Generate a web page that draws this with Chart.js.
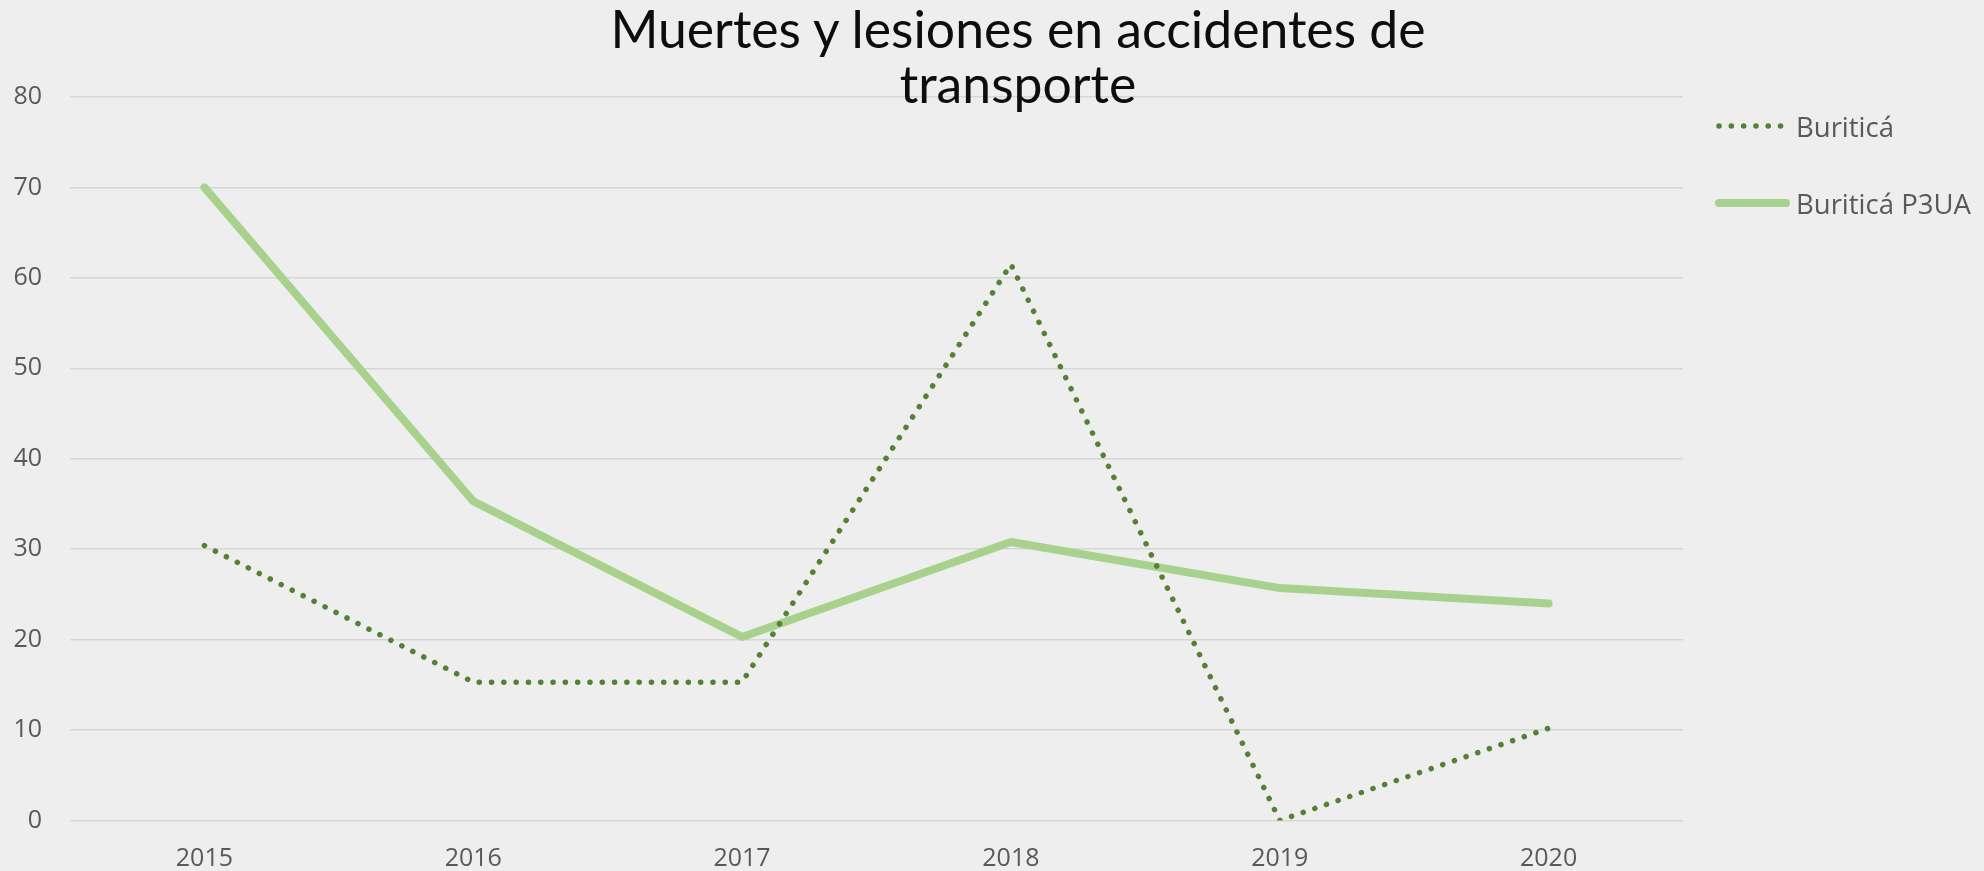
<!DOCTYPE html>
<html>
<head>
<meta charset="utf-8">
<script src="https://cdn.jsdelivr.net/npm/chart.js@4.4.1/dist/chart.umd.min.js"></script>
<style>
  html, body { margin:0; padding:0; }
  body { width:1984px; height:871px; background:#eeeeee; position:relative; overflow:hidden; }
  #wrap { position:absolute; left:0; top:0; width:1984px; height:871px; }
  #title {
    position:absolute; left:518px; top:0.5px; width:1000px; text-align:center;
    font-family:Lato, sans-serif; font-size:51.7px; line-height:55px; color:#0d0d0d;
  }
  #legend { position:absolute; left:1714px; top:0; font-family:"Open Sans", sans-serif; font-size:27.5px; color:#595959; }
  .item { position:absolute; left:0; height:38px; display:flex; align-items:center; white-space:nowrap; }
  .item svg { margin-right:6px; }
</style>
</head>
<body>
<div id="wrap"><canvas id="chart"></canvas></div>
<div id="title">Muertes y lesiones en accidentes de<br>transporte</div>
<div id="legend"></div>
<script>
// ---------- Data ----------
const years = ['2015', '2016', '2017', '2018', '2019', '2020'];
const buritica = [30.4, 15.3, 15.3, 61.5, 0, 10.2];
const buriticaP3UA = [70, 35.3, 20.3, 30.8, 25.7, 24];
const seriesNames = ['Buriticá', 'Buriticá P3UA'];
const yTicks = [0, 10, 20, 30, 40, 50, 60, 70, 80];

const darkGreen = '#548235';
const lightGreen = '#a9d18e';
const tickFont = { family: '"Open Sans", sans-serif', size: 25 };

// ---------- Chart ----------
const ctx = document.getElementById('chart').getContext('2d');
const chart = new Chart(ctx, {
  type: 'line',
  data: {
    labels: years,
    datasets: [
      { label: seriesNames[0], data: buritica, borderColor: darkGreen, borderWidth: 5.5,
        borderDash: [0.1, 12.2], borderCapStyle: 'round', pointRadius: 0, tension: 0 },
      { label: seriesNames[1], data: buriticaP3UA, borderColor: lightGreen, borderWidth: 8,
        borderCapStyle: 'round', borderJoinStyle: 'round', pointRadius: 0, tension: 0 }
    ]
  },
  options: {
    responsive: true,
    maintainAspectRatio: false,
    animation: false,
    // tick padding is counted twice in the axis size, hence the negative values
    layout: { padding: { left: -14.6, right: 301, top: 97, bottom: -25.5 } },
    plugins: { legend: { display: false }, tooltip: { enabled: false } },
    scales: {
      x: {
        offset: true,
        grid: { display: false, drawTicks: false },
        border: { display: false },
        ticks: { color: '#595959', font: tickFont, padding: 23, maxRotation: 0 }
      },
      y: {
        min: yTicks[0],
        max: yTicks[yTicks.length - 1],
        afterBuildTicks: axis => { axis.ticks = yTicks.map(v => ({ value: v })); },
        grid: { color: '#d6d6d6', lineWidth: 1.5, drawTicks: false },
        border: { display: false },
        ticks: { color: '#595959', font: tickFont, padding: 28 }
      }
    }
  }
});

// ---------- Legend (html, built from datasets) ----------
const legendCenters = [126, 203];
const legend = document.getElementById('legend');
chart.data.datasets.forEach((ds, i) => {
  const row = document.createElement('div');
  row.className = 'item';
  row.style.top = (legendCenters[i] - 19) + 'px';
  const dash = ds.borderDash ? `stroke-dasharray="${ds.borderDash.join(' ')}"` : '';
  row.innerHTML = `<svg width="76" height="14"><line x1="5" y1="7" x2="${ds.borderDash ? 68 : 72}" y2="7"
      stroke="${ds.borderColor}" stroke-width="${ds.borderWidth}" stroke-linecap="round" ${dash}/></svg>` +
    `<span>${ds.label}</span>`;
  legend.appendChild(row);
});
</script>
</body>
</html>
